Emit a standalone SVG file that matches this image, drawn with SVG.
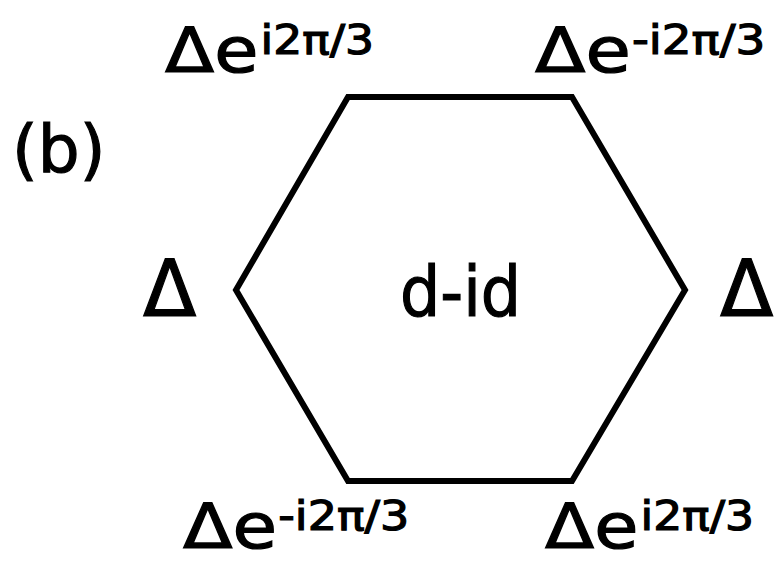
<svg xmlns="http://www.w3.org/2000/svg" width="774" height="562" viewBox="0 0 774 562">
<style>
text{font-family:"DejaVu Sans","Noto Sans",sans-serif;fill:#000;stroke:#000;stroke-width:1.2px}
.lab{font-size:63px}
.sup{font-size:40px}
.big{font-size:78px}
</style>
<rect width="774" height="562" fill="#fff"/>
<g id="label-b"><text x="12" y="172" class="lab" style="font-size:66px">(b)</text></g>
<g id="hexagon">
<polygon points="348,97 572,97 685,290 572,481 348,481 236,290" fill="none" stroke="#000" stroke-width="6" stroke-linejoin="miter"/>
<text x="400" y="316" class="big" textLength="121" lengthAdjust="spacingAndGlyphs" style="font-size:70px">d-id</text>
</g>
<g id="v-tl" transform="translate(165,0) scale(1.14,1)"><text x="0" y="72" class="lab">Δe<tspan class="sup" dy="-18" dx="2">i2π/3</tspan></text></g>
<g id="v-tr" transform="translate(535,0) scale(1.17,1)"><text x="0" y="72" class="lab">Δe<tspan class="sup" dy="-18" dx="1">-i2π/3</tspan></text></g>
<g id="v-l"><text x="143" y="316" class="big">Δ</text></g>
<g id="v-r"><text x="720" y="316" class="big">Δ</text></g>
<g id="v-bl" transform="translate(183,0) scale(1.15,1)"><text x="0" y="548" class="lab">Δe<tspan class="sup" dy="-18" dx="1">-i2π/3</tspan></text></g>
<g id="v-br" transform="translate(545,0) scale(1.14,1)"><text x="0" y="548" class="lab">Δe<tspan class="sup" dy="-18" dx="2">i2π/3</tspan></text></g>
<g id="connectors"></g>
</svg>
